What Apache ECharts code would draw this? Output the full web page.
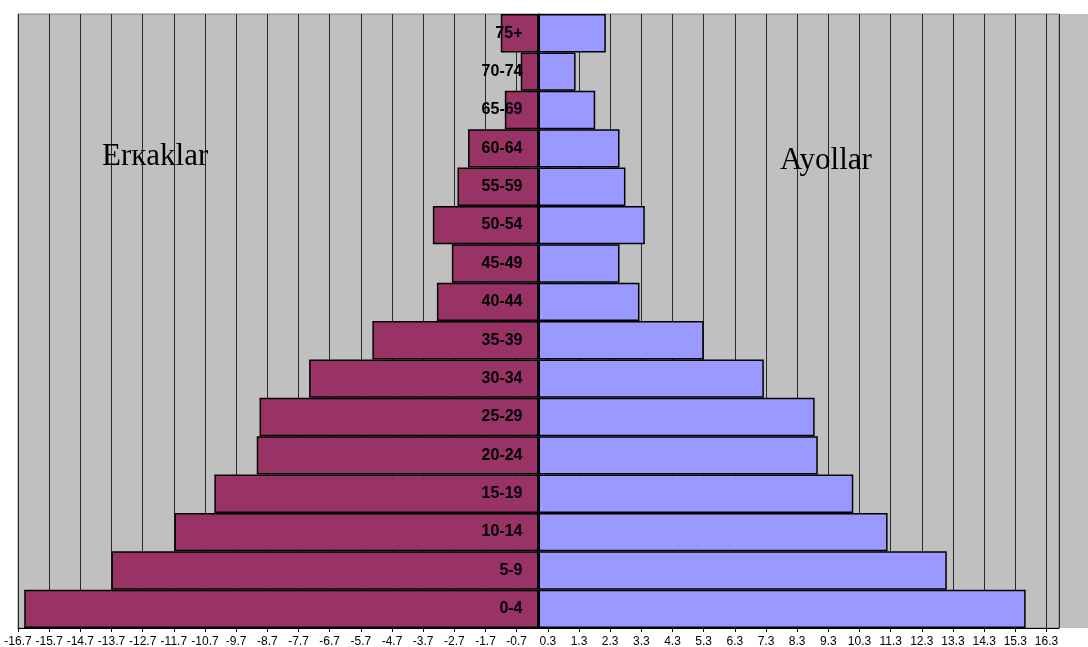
<!DOCTYPE html>
<html>
<head>
<meta charset="utf-8">
<title>Aholi piramidasi</title>
<script src="https://cdn.jsdelivr.net/npm/echarts@6/dist/echarts.min.js"></script>
<style>
  html, body { margin: 0; padding: 0; background: #ffffff; }
  #chart { width: 1088px; height: 647px; }
</style>
</head>
<body>
<div id="chart"></div>
<script>
// Age groups, bottom to top
const ageGroups = ['0-4', '5-9', '10-14', '15-19', '20-24', '25-29', '30-34', '35-39',
                   '40-44', '45-49', '50-54', '55-59', '60-64', '65-69', '70-74', '75+'];

// Men (drawn to the left, negative) and women (to the right), percent
const erkaklar = [-16.5, -13.7, -11.68, -10.4, -9.04, -8.95, -7.36, -5.33,
                  -3.26, -2.78, -3.39, -2.6, -2.26, -1.08, -0.57, -1.21];
const ayollar  = [15.63, 13.1, 11.2, 10.1, 8.96, 8.86, 7.23, 5.3,
                  3.24, 2.6, 3.41, 2.79, 2.6, 1.82, 1.19, 2.16];

// Value range of the horizontal axis and its tick labels
const axisMin = -16.7;
const axisMax = 16.7;
const tickLabels = ['-16.7', '-15.7', '-14.7', '-13.7', '-12.7', '-11.7', '-10.7', '-9.7',
                    '-8.7', '-7.7', '-6.7', '-5.7', '-4.7', '-3.7', '-2.7', '-1.7', '-0.7',
                    '0.3', '1.3', '2.3', '3.3', '4.3', '5.3', '6.3', '7.3', '8.3', '9.3',
                    '10.3', '11.3', '12.3', '13.3', '14.3', '15.3', '16.3'];

const chart = echarts.init(document.getElementById('chart'));

const plotLeft = 18, plotTop = 14, plotRight = 29, plotBottom = 19;

chart.setOption({
  animation: false,
  backgroundColor: '#ffffff',
  grid: {
    left: plotLeft, top: plotTop, right: plotRight, bottom: plotBottom,
    show: true,
    backgroundColor: '#c0c0c0',
    borderColor: '#808080',
    borderWidth: 1,
    containLabel: false,
    outerBoundsMode: 'none'
  },
  graphic: [
    {
      type: 'rect',
      right: 0,
      top: plotTop,
      shape: { width: plotRight, height: 647 - plotTop - plotBottom },
      style: { fill: '#c0c0c0' },
      z: -1
    },
    {
      type: 'text',
      left: 102, top: 141,
      style: { text: 'Erкaklar', font: '31px "Liberation Serif", "Times New Roman", serif', fill: '#000000' },
      z: 50
    },
    {
      type: 'text',
      left: 780, top: 145,
      style: { text: 'Ayollar', font: '31px "Liberation Serif", "Times New Roman", serif', fill: '#000000' },
      z: 50
    }
  ],
  xAxis: [
    {
      // value axis used by the bars; kept invisible
      type: 'value',
      min: axisMin,
      max: axisMax,
      show: true,
      axisLine: { show: false, onZero: false },
      axisTick: { show: false },
      axisLabel: { show: false },
      splitLine: { show: false }
    },
    {
      // tick and grid axis, counted from the left edge in steps of 1
      type: 'value',
      min: 0,
      max: axisMax - axisMin,
      interval: 1,
      position: 'bottom',
      axisLine: { show: true, onZero: false, lineStyle: { color: '#000000', width: 1 } },
      axisTick: { show: true, length: 4, inside: false, lineStyle: { color: '#000000' } },
      splitLine: { show: true, lineStyle: { color: '#2a2a2a', width: 1 } },
      axisLabel: {
        show: true,
        showMaxLabel: false,
        margin: 8,
        fontSize: 12,
        fontFamily: '"Liberation Sans", Arial, sans-serif',
        color: '#000000',
        formatter: function (v) {
          const i = Math.round(v);
          return Math.abs(v - i) < 1e-6 && i < tickLabels.length ? tickLabels[i] : '';
        }
      }
    }
  ],
  yAxis: {
    type: 'category',
    data: ageGroups,
    position: 'left',
    offset: 0,
    z: 10,
    axisLine: { show: true, onZero: false, lineStyle: { color: '#000000', width: 1.5 } },
    axisTick: { show: false },
    splitLine: { show: false },
    axisLabel: {
      margin: 16,
      fontSize: 16,
      fontWeight: 'bold',
      fontFamily: '"Liberation Sans", Arial, sans-serif',
      color: '#000000'
    }
  },
  series: [
    {
      name: 'Erkaklar',
      type: 'bar',
      xAxisIndex: 0,
      data: erkaklar,
      barCategoryGap: '0%',
      barGap: '-100%',
      itemStyle: { color: '#993366', borderColor: '#000000', borderWidth: 1.5 }
    },
    {
      name: 'Ayollar',
      type: 'bar',
      xAxisIndex: 0,
      data: ayollar,
      barCategoryGap: '0%',
      barGap: '-100%',
      itemStyle: { color: '#9999ff', borderColor: '#000000', borderWidth: 1.5 }
    }
  ]
});

// Move the age-group axis onto the zero line of the value scale
const zeroX = chart.convertToPixel({ xAxisIndex: 0 }, 0);
chart.setOption({ yAxis: { offset: -(zeroX - plotLeft) } });
</script>
</body>
</html>
